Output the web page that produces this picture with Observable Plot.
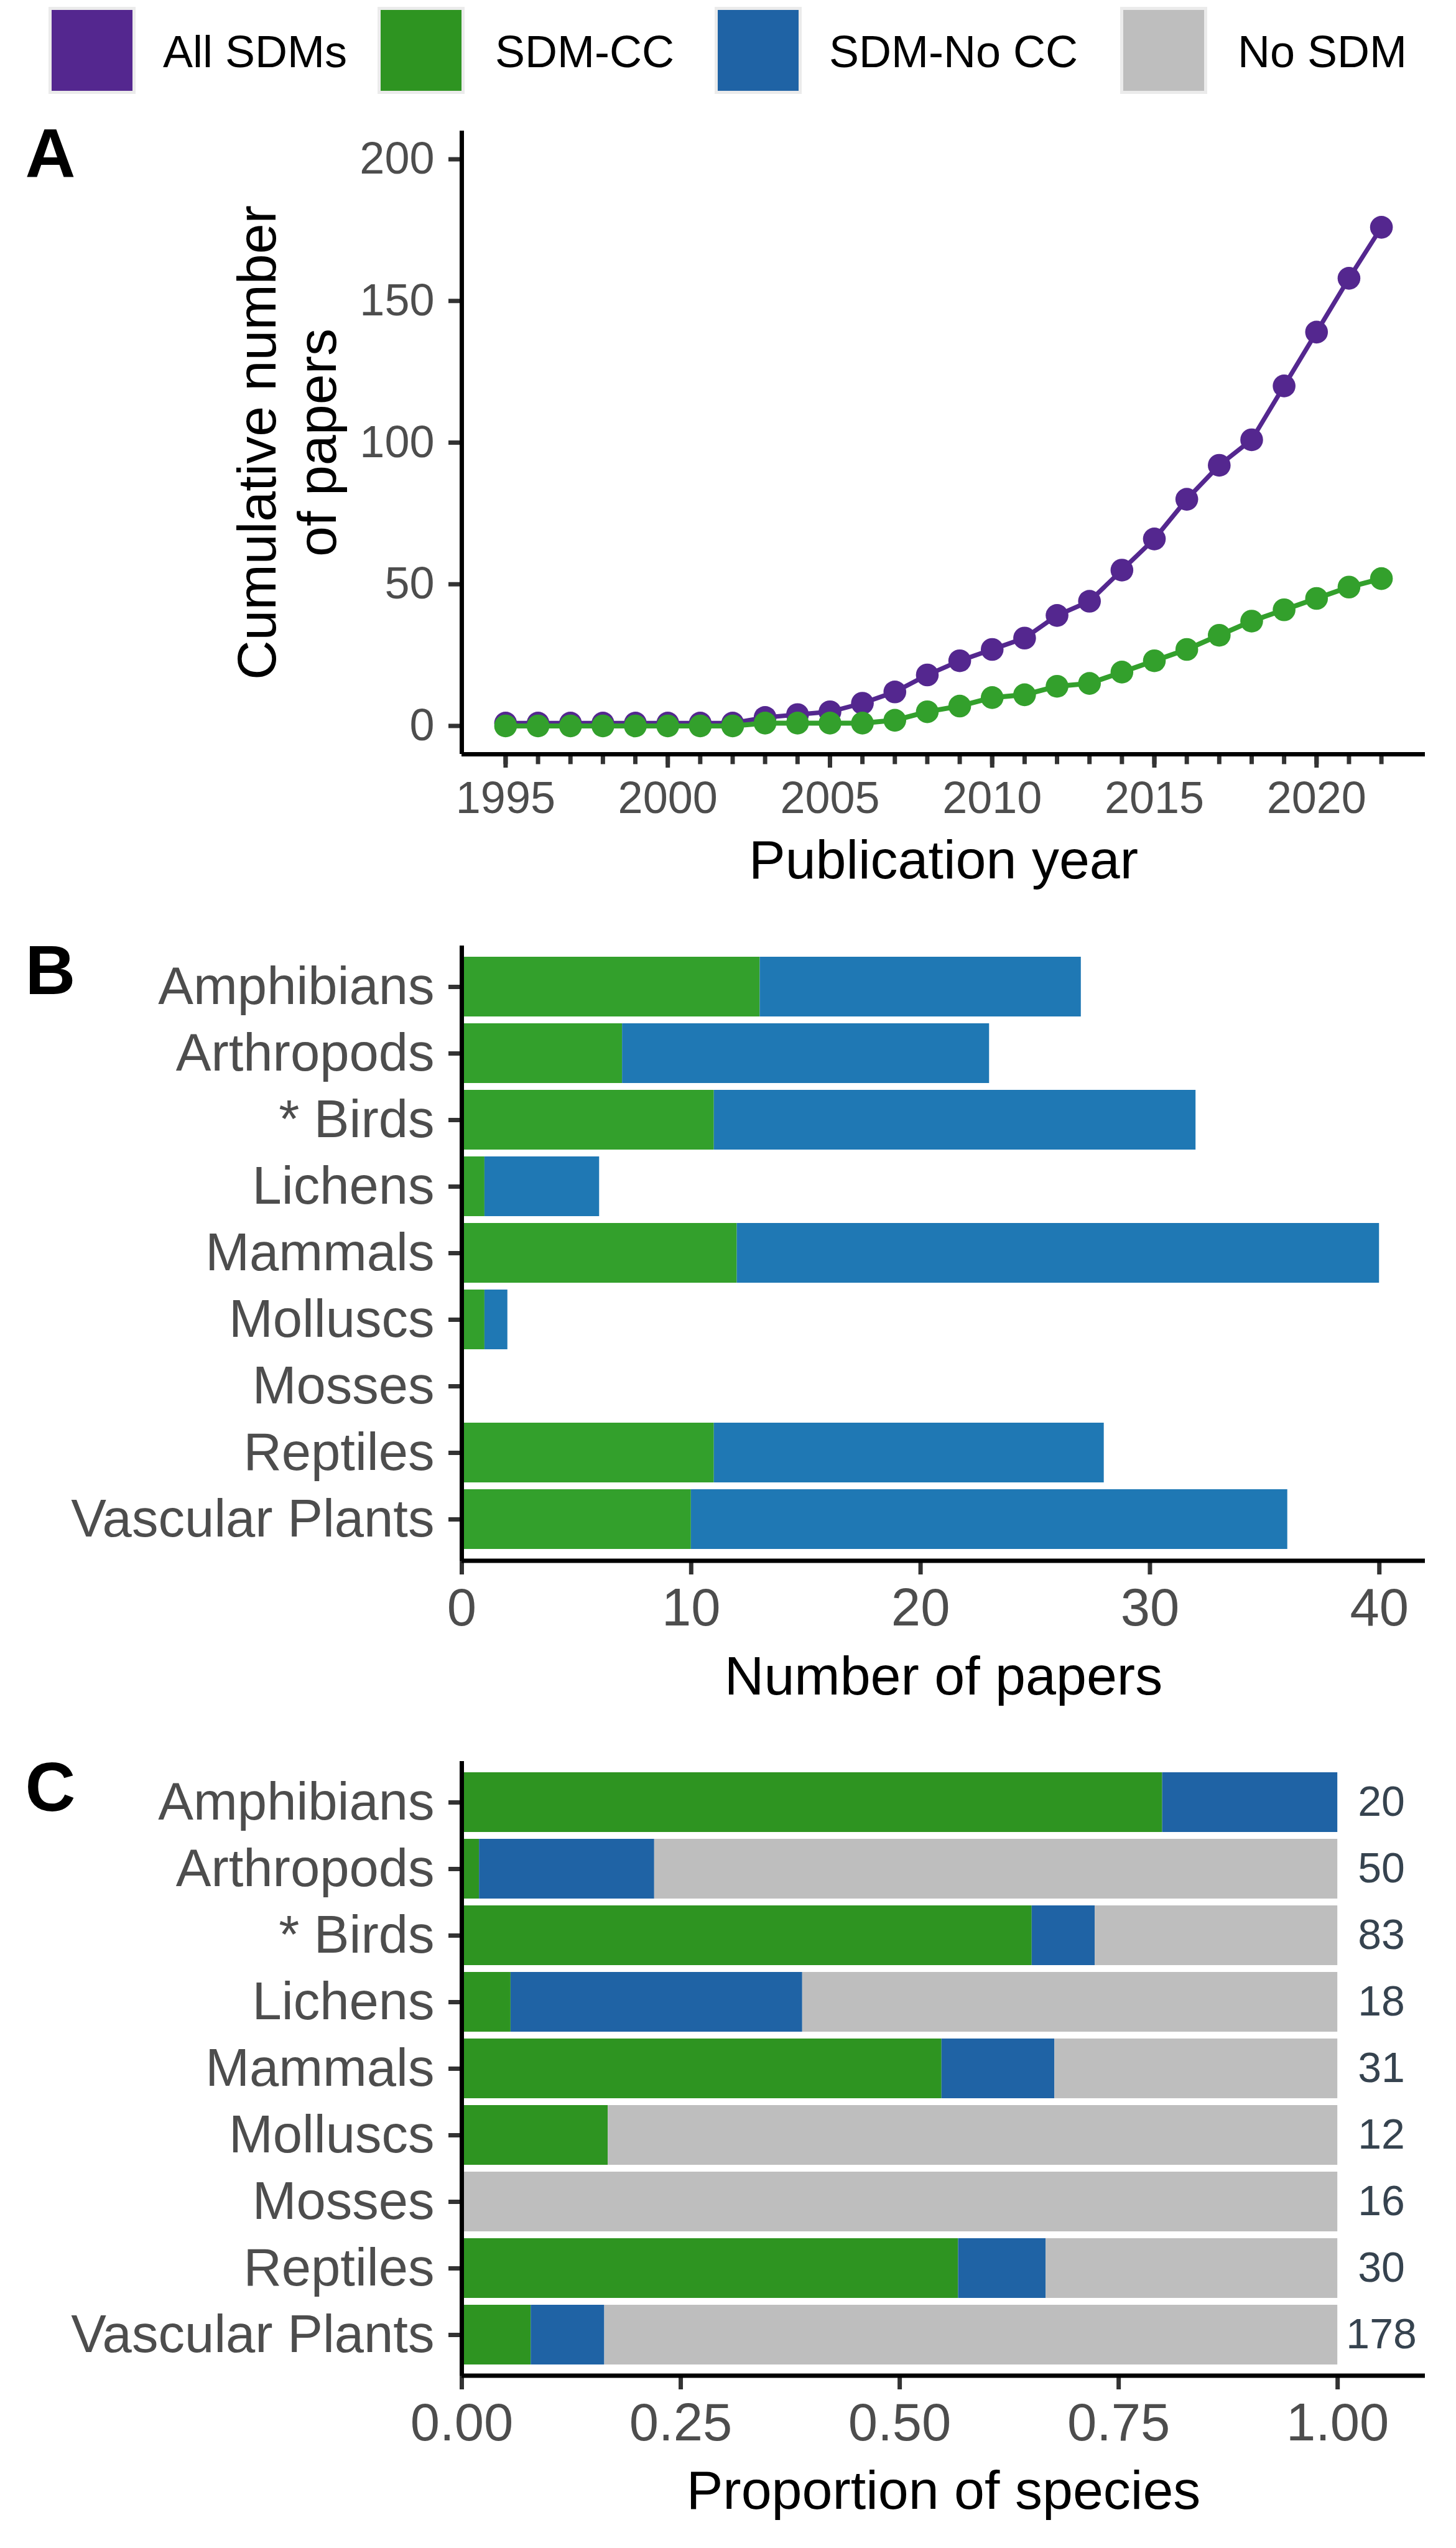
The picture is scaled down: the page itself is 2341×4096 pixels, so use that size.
<!DOCTYPE html>
<html>
<head>
<meta charset="utf-8">
<script src="https://cdn.jsdelivr.net/npm/d3@7"></script>
<script src="https://cdn.jsdelivr.net/npm/@observablehq/plot@0.6"></script>
<style>
  html, body { margin: 0; padding: 0; background: #fff; }
  #root { position: relative; width: 2341px; height: 4096px; overflow: hidden; background: #fff;
          font-family: 'Liberation Sans', Arial, sans-serif; }
  .panel { position: absolute; left: 0; }
  .lg-box { position: absolute; top: 11px; width: 140px; height: 140px; box-sizing: border-box;
            border: 5px solid #EBEBEB; }
  .lg-text { position: absolute; top: 47px; font-size: 72px; line-height: 1; color: #000; white-space: nowrap; }
</style>
</head>
<body>
<div id="root"></div>
<script>
// ---------------- DATA ----------------
const legendLabels = ["All SDMs", "SDM-CC", "SDM-No CC", "No SDM"];
const legendColors = ["#54278F", "#2E9421", "#1F63A5", "#BEBEBE"];

const years = [1995,1996,1997,1998,1999,2000,2001,2002,2003,2004,2005,2006,2007,2008,
               2009,2010,2011,2012,2013,2014,2015,2016,2017,2018,2019,2020,2021,2022];
const allSDMs = [1,1,1,1,1,1,1,1,3,4,5,8,12,18,23,27,31,39,44,55,66,80,92,101,120,139,158,176];
const sdmCC   = [0,0,0,0,0,0,0,0,1,1,1,1,2,5,7,10,11,14,15,19,23,27,32,37,41,45,49,52];
const yTicksA = [0, 50, 100, 150, 200];
const xMajorA = [1995, 2000, 2005, 2010, 2015, 2020];

const taxa = ["Amphibians","Arthropods","* Birds","Lichens","Mammals","Molluscs","Mosses","Reptiles","Vascular Plants"];
const papersCC   = [13, 7, 11, 1, 12, 1, 0, 11, 10];
const papersNoCC = [14, 16, 21, 5, 28, 1, 0, 17, 26];
const xTicksB = [0, 10, 20, 30, 40];

const propCC   = [0.80, 0.02, 0.651, 0.056, 0.548, 0.167, 0, 0.567, 0.079];
const propNoCC = [0.20, 0.20, 0.072, 0.333, 0.129, 0,     0, 0.100, 0.084];
const nSpecies = [20, 50, 83, 18, 31, 12, 16, 30, 178];
const xTicksC = [0, 0.25, 0.5, 0.75, 1];

// ---------------- STYLE ----------------
const FONT = "'Liberation Sans', Arial, sans-serif";
const W = 2341, ML = 742, MR = 50;
const AXIS_W = 7, TICK_COL = "#333333", LAB_COL = "#4D4D4D";
const PURPLE = "#54278F", GREEN_A = "#33A02C";
const GREEN_B = "#33A02C", BLUE_B = "#1F78B4";
const GREEN_C = "#2E9421", BLUE_C = "#1F63A5", GREY_C = "#BEBEBE";

const root = document.getElementById("root");

// ---------------- LEGEND ----------------
const legendBoxX = [78, 607, 1149, 1801];
const legendTextX = [262, 796, 1333, 1990];
legendLabels.forEach((lab, i) => {
  const b = document.createElement("div");
  b.className = "lg-box";
  b.style.left = legendBoxX[i] + "px";
  b.style.background = legendColors[i];
  root.appendChild(b);
  const t = document.createElement("div");
  t.className = "lg-text";
  t.style.left = legendTextX[i] + "px";
  t.textContent = lab;
  root.appendChild(t);
});

function place(svg, top) {
  const wrap = document.createElement("div");
  wrap.className = "panel";
  wrap.style.top = top + "px";
  wrap.appendChild(svg);
  root.appendChild(wrap);
}

function panelLetter(letter, dy) {
  return Plot.text([letter], {text: d => d, frameAnchor: "top-left", dx: 40 - ML, dy,
    textAnchor: "start", lineAnchor: "top", fontSize: 112, fontWeight: "bold", fill: "black"});
}
function xTitle(label, dy) {
  return Plot.text([label], {text: d => d, frameAnchor: "bottom", dy, textAnchor: "middle",
    lineAnchor: "bottom", fontSize: 88, fill: "black"});
}
// bottom axis line along the frame's lower edge (custom render mark)
function bottomAxisLine() {
  return (index, scales, values, dims) => {
    const yb = dims.height - dims.marginBottom;
    return d3.create("svg:line")
      .attr("x1", dims.marginLeft).attr("x2", dims.width - dims.marginRight)
      .attr("y1", yb).attr("y2", yb)
      .attr("stroke", "black").attr("stroke-width", AXIS_W)
      .node();
  };
}

// ---------------- PANEL A ----------------
const dataAll = years.map((y, i) => ({year: y, n: allSDMs[i]}));
const dataCC = years.map((y, i) => ({year: y, n: sdmCC[i]}));
const xr = d3.max(years) - d3.min(years);
const xDomA = [d3.min(years) - 0.05 * xr, d3.max(years) + 0.05 * xr];
const yDomA = [-10, 210];

const plotA = Plot.plot({
  width: W, height: 1300, marginLeft: ML, marginRight: MR, marginTop: 60, marginBottom: 238,
  style: {fontFamily: FONT, background: "transparent", overflow: "visible"},
  x: {domain: xDomA},
  y: {domain: yDomA},
  marks: [
    Plot.line(dataAll, {x: "year", y: "n", stroke: PURPLE, strokeWidth: 7.3}),
    Plot.dot(dataAll, {x: "year", y: "n", r: 18.3, fill: PURPLE}),
    Plot.line(dataCC, {x: "year", y: "n", stroke: GREEN_A, strokeWidth: 8}),
    Plot.dot(dataCC, {x: "year", y: "n", r: 18.3, fill: GREEN_A}),
    Plot.axisY({ticks: yTicksA, tickSize: 21, tickPadding: 23, stroke: TICK_COL, strokeWidth: AXIS_W,
      color: LAB_COL, fontSize: 72, label: null, tickFormat: "d"}),
    Plot.axisX({ticks: years, tickSize: 16.4, tickFormat: () => "", stroke: TICK_COL, strokeWidth: AXIS_W,
      label: null}),
    Plot.axisX({ticks: xMajorA, tickSize: 22, tickPadding: 21, tickFormat: "d", stroke: TICK_COL,
      strokeWidth: AXIS_W, color: LAB_COL, fontSize: 72, label: null}),
    Plot.ruleX([xDomA[0]], {stroke: "black", strokeWidth: AXIS_W}),
    Plot.ruleY([yDomA[0]], {stroke: "black", strokeWidth: AXIS_W}),
    Plot.text(["Cumulative number"], {text: d => d, frameAnchor: "left", dx: 442 - ML, rotate: -90,
      textAnchor: "middle", lineAnchor: "bottom", fontSize: 88, fill: "black"}),
    Plot.text(["of papers"], {text: d => d, frameAnchor: "left", dx: 539 - ML, rotate: -90,
      textAnchor: "middle", lineAnchor: "bottom", fontSize: 88, fill: "black"}),
    xTitle("Publication year", 199),
    panelLetter("A", -5)
  ]
});
place(plotA, 150);

// ---------------- PANEL B ----------------
const barsB = [];
taxa.forEach((t, i) => {
  barsB.push({taxon: t, x1: 0, x2: papersCC[i], fill: GREEN_B});
  barsB.push({taxon: t, x1: papersCC[i], x2: papersCC[i] + papersNoCC[i], fill: BLUE_B});
});
const xDomB = [0, 1.05 * d3.max(taxa.map((t, i) => papersCC[i] + papersNoCC[i]))];

const plotB = Plot.plot({
  width: W, height: 1330, marginLeft: ML, marginRight: MR, marginTop: 70, marginBottom: 271,
  style: {fontFamily: FONT, background: "transparent", overflow: "visible"},
  x: {domain: xDomB},
  y: {domain: taxa, paddingInner: 0.1, paddingOuter: 0.15},
  marks: [
    Plot.barX(barsB, {y: "taxon", x1: "x1", x2: "x2", fill: d => d.fill}),
    Plot.axisY({tickSize: 21, tickPadding: 23, stroke: TICK_COL, strokeWidth: AXIS_W,
      color: LAB_COL, fontSize: 85, label: null}),
    Plot.axisX({ticks: xTicksB, tickSize: 22, tickPadding: 21, stroke: TICK_COL, strokeWidth: AXIS_W,
      color: LAB_COL, fontSize: 85, label: null, tickFormat: "d"}),
    bottomAxisLine(),
    Plot.ruleX([0], {stroke: "black", strokeWidth: AXIS_W}),
    xTitle("Number of papers", 214),
    panelLetter("B", -2)
  ]
});
place(plotB, 1450);

// ---------------- PANEL C ----------------
const barsC = [];
taxa.forEach((t, i) => {
  const a = propCC[i], b = propCC[i] + propNoCC[i];
  barsC.push({taxon: t, x1: 0, x2: a, fill: GREEN_C});
  barsC.push({taxon: t, x1: a, x2: b, fill: BLUE_C});
  barsC.push({taxon: t, x1: b, x2: 1, fill: GREY_C});
});
const countsC = taxa.map((t, i) => ({taxon: t, n: nSpecies[i]}));

const plotC = Plot.plot({
  width: W, height: 1316, marginLeft: ML, marginRight: MR, marginTop: 51, marginBottom: 277,
  style: {fontFamily: FONT, background: "transparent", overflow: "visible"},
  x: {domain: [0, 1.1]},
  y: {domain: taxa, paddingInner: 0.1, paddingOuter: 0.15},
  marks: [
    Plot.barX(barsC, {y: "taxon", x1: "x1", x2: "x2", fill: d => d.fill}),
    Plot.text(countsC, {x: () => 1.05, y: "taxon", text: d => String(d.n), textAnchor: "middle",
      fontSize: 68, fill: "#36434F"}),
    Plot.axisY({tickSize: 21, tickPadding: 23, stroke: TICK_COL, strokeWidth: AXIS_W,
      color: LAB_COL, fontSize: 85, label: null}),
    Plot.axisX({ticks: xTicksC, tickSize: 22, tickPadding: 21, stroke: TICK_COL, strokeWidth: AXIS_W,
      color: LAB_COL, fontSize: 85, label: null, tickFormat: ".2f"}),
    bottomAxisLine(),
    Plot.ruleX([0], {stroke: "black", strokeWidth: AXIS_W}),
    xTitle("Proportion of species", 213),
    panelLetter("C", 0)
  ]
});
place(plotC, 2780);
</script>
</body>
</html>
